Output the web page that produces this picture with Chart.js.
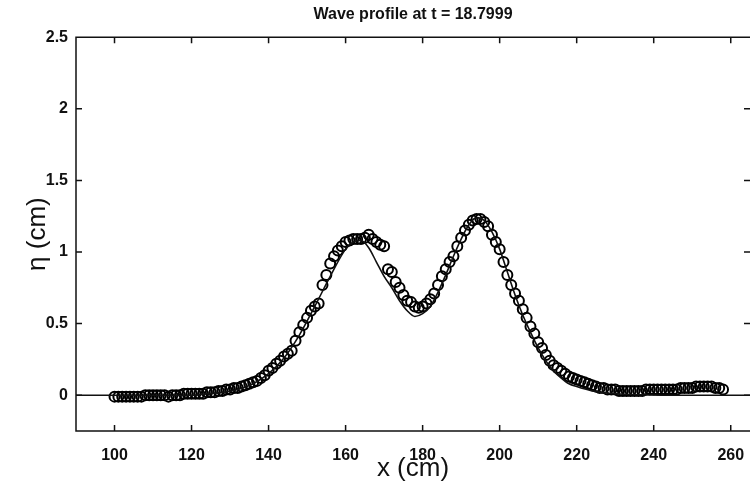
<!DOCTYPE html>
<html>
<head>
<meta charset="utf-8">
<script src="https://cdn.jsdelivr.net/npm/chart.js@4/dist/chart.umd.min.js"></script>
<style>
  html, body { margin: 0; padding: 0; background: #fff; }
  #wrap { width: 750px; height: 485px; }
</style>
</head>
<body>
<div id="wrap"><canvas id="c" width="750" height="485"></canvas></div>
<script>
// measured wave gauge profile (circles), x in cm
const obsX = [
  100, 101, 102, 103, 104, 105, 106, 107, 108, 109, 110, 111, 112, 113, 114, 115, 116, 117, 118, 119,
  120, 121, 122, 123, 124, 125, 126, 127, 128, 129, 130, 131, 132, 133, 134, 135, 136, 137, 138, 139,
  140, 141, 142, 143, 144, 145, 146, 147, 148, 149, 150, 151, 152, 153, 154, 155, 156, 157, 158, 159,
  160, 161, 162, 163, 164, 165, 166, 167, 168, 169, 170, 171, 172, 173, 174, 175, 176, 177, 178, 179,
  180, 181, 182, 183, 184, 185, 186, 187, 188, 189, 190, 191, 192, 193, 194, 195, 196, 197, 198, 199,
  200, 201, 202, 203, 204, 205, 206, 207, 208, 209, 210, 211, 212, 213, 214, 215, 216, 217, 218, 219,
  220, 221, 222, 223, 224, 225, 226, 227, 228, 229, 230, 231, 232, 233, 234, 235, 236, 237, 238, 239,
  240, 241, 242, 243, 244, 245, 246, 247, 248, 249, 250, 251, 252, 253, 254, 255, 256, 257, 258
];
const obsEta = [
  -0.01, -0.01, -0.01, -0.01, -0.01, -0.01, -0.01, -0.01, 0.00, 0.00, 0.00, 0.00, 0.00, 0.00, -0.01, 0.00, 0.00, 0.00, 0.01, 0.01,
  0.01, 0.01, 0.01, 0.01, 0.02, 0.02, 0.02, 0.03, 0.03, 0.04, 0.04, 0.05, 0.05, 0.06, 0.07, 0.08, 0.09, 0.10, 0.12, 0.14,
  0.17, 0.19, 0.22, 0.24, 0.27, 0.29, 0.31, 0.38, 0.44, 0.49, 0.54, 0.59, 0.62, 0.64, 0.77, 0.84, 0.92, 0.97, 1.01, 1.04,
  1.07, 1.08, 1.09, 1.09, 1.09, 1.10, 1.12, 1.09, 1.07, 1.05, 1.04, 0.88, 0.86, 0.79, 0.75, 0.70, 0.66, 0.65, 0.62, 0.61,
  0.62, 0.64, 0.67, 0.71, 0.77, 0.83, 0.88, 0.93, 0.97, 1.04, 1.10, 1.15, 1.19, 1.22, 1.23, 1.23, 1.21, 1.18, 1.12, 1.07,
  1.02, 0.93, 0.84, 0.77, 0.71, 0.66, 0.60, 0.54, 0.48, 0.43, 0.37, 0.33, 0.28, 0.24, 0.21, 0.19, 0.17, 0.15, 0.13, 0.12,
  0.11, 0.10, 0.09, 0.08, 0.07, 0.06, 0.05, 0.05, 0.04, 0.04, 0.04, 0.03, 0.03, 0.03, 0.03, 0.03, 0.03, 0.03, 0.04, 0.04,
  0.04, 0.04, 0.04, 0.04, 0.04, 0.04, 0.04, 0.05, 0.05, 0.05, 0.05, 0.06, 0.06, 0.06, 0.06, 0.06, 0.05, 0.05, 0.04
];

// computed profile (solid line)
const modelX = [
  90, 100, 110, 120, 124, 128, 132, 136, 140, 144, 148, 152, 156, 160, 162, 164, 166, 168, 170, 172,
  174, 176, 178, 180, 182, 184, 186, 188, 190, 192, 194, 196, 198, 200, 202, 204, 206, 208, 210, 212,
  214, 216, 218, 220, 224, 228, 234, 245, 265
];
const modelEta = [
  0.00, 0.00, 0.00, 0.00, 0.01, 0.02, 0.04, 0.08, 0.15, 0.26, 0.42, 0.62, 0.83, 1.02, 1.07, 1.08, 1.03, 0.93, 0.83, 0.75,
  0.66, 0.59, 0.55, 0.57, 0.62, 0.72, 0.84, 0.97, 1.09, 1.19, 1.24, 1.22, 1.14, 1.02, 0.86, 0.70, 0.56, 0.44, 0.33, 0.24,
  0.17, 0.12, 0.08, 0.06, 0.03, 0.015, 0.005, 0.00, 0.00
];

const xTicks = [100, 120, 140, 160, 180, 200, 220, 240, 260];
const yTicks = [0, 0.5, 1, 1.5, 2, 2.5];

const ink = '#111';
const fontFamily = '"Liberation Sans", Arial, Helvetica, sans-serif';

// MATLAB style box with inward ticks
const frame = {
  id: 'frame',
  afterDraw(chart) {
    const {ctx, chartArea: a, scales: {x, y}} = chart;
    ctx.save();
    ctx.strokeStyle = ink;
    ctx.lineWidth = 1.5;
    ctx.beginPath();
    ctx.moveTo(a.right, a.top);
    ctx.lineTo(a.left, a.top);
    ctx.lineTo(a.left, a.bottom);
    ctx.lineTo(a.right, a.bottom);
    x.ticks.forEach(t => {
      const px = x.getPixelForValue(t.value);
      ctx.moveTo(px, a.bottom); ctx.lineTo(px, a.bottom - 6);
      ctx.moveTo(px, a.top); ctx.lineTo(px, a.top + 6);
    });
    y.ticks.forEach(t => {
      const py = y.getPixelForValue(t.value);
      ctx.moveTo(a.left, py); ctx.lineTo(a.left + 6, py);
      ctx.moveTo(a.right, py); ctx.lineTo(a.right - 6, py);
    });
    ctx.stroke();
    ctx.restore();
  }
};

new Chart(document.getElementById('c').getContext('2d'), {
  type: 'scatter',
  data: {
    datasets: [
      {
        label: 'model',
        data: modelX.map((x, i) => ({x, y: modelEta[i]})),
        showLine: true,
        borderColor: ink,
        borderWidth: 1.6,
        pointRadius: 0,
        cubicInterpolationMode: 'monotone',
        fill: false,
      },
      {
        label: 'measured',
        data: obsX.map((x, i) => ({x, y: obsEta[i]})),
        showLine: false,
        borderColor: '#000',
        backgroundColor: 'rgba(0,0,0,0)',
        borderWidth: 2,
        pointRadius: 5,
        pointStyle: 'circle',
      },
    ]
  },
  options: {
    responsive: false,
    animation: false,
    layout: { autoPadding: false, padding: { left: 0, right: 0, top: 0, bottom: 0 } },
    plugins: {
      legend: { display: false },
      tooltip: { enabled: false },
      title: {
        display: true,
        text: 'Wave profile at t = 18.7999',
        fullSize: false,
        color: ink,
        font: { family: fontFamily, size: 16, weight: 'bold' },
        padding: { top: 5, bottom: 13 },
      },
    },
    scales: {
      x: {
        type: 'linear',
        min: 90,
        max: 265,
        grid: { display: false, drawTicks: false },
        border: { display: false },
        afterBuildTicks: s => { s.ticks = xTicks.map(v => ({value: v})); },
        afterFit: s => { s.height = 54; s.paddingLeft = 0; s.paddingRight = 0; },
        ticks: {
          color: ink,
          padding: 15,
          maxRotation: 0,
          font: { family: fontFamily, size: 16, weight: 'bold' },
          callback: v => String(v),
        },
        title: {
          display: true,
          text: 'x (cm)',
          color: ink,
          font: { family: fontFamily, size: 26 },
          padding: { top: 0, bottom: 1 },
        },
      },
      y: {
        type: 'linear',
        min: -0.25,
        max: 2.5,
        grid: { display: false, drawTicks: false },
        border: { display: false },
        afterBuildTicks: s => { s.ticks = yTicks.map(v => ({value: v})); },
        afterFit: s => { s.width = 76; },
        ticks: {
          color: ink,
          padding: 8,
          font: { family: fontFamily, size: 16, weight: 'bold' },
          callback: v => String(v),
        },
        title: {
          display: true,
          text: 'η (cm)',
          color: ink,
          font: { family: fontFamily, size: 26 },
          padding: { top: 22, bottom: 0 },
        },
      },
    },
  },
  plugins: [frame],
});
</script>
</body>
</html>
